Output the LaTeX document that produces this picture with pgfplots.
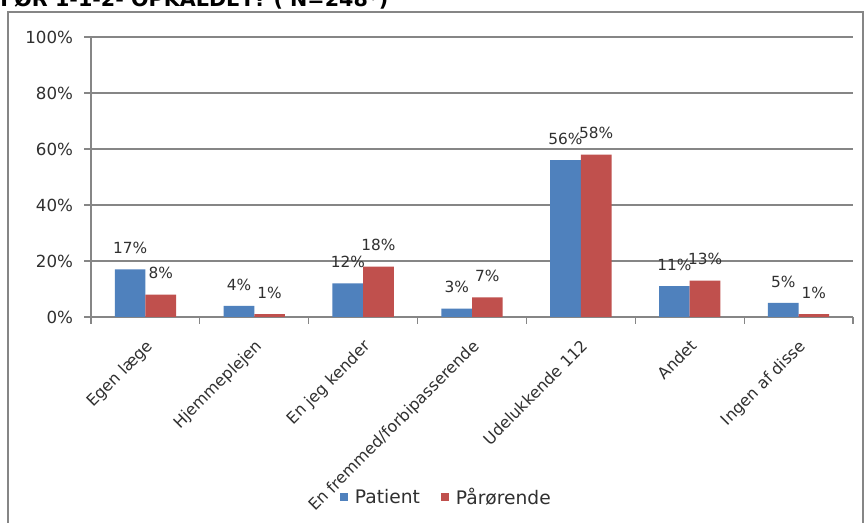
\documentclass[border=0pt]{standalone}
\usepackage{pgfplots}
\pgfplotsset{compat=1.18}
\usepackage{fontspec}
\setmainfont{DejaVu Sans}
\definecolor{xblue}{HTML}{4F81BD}
\definecolor{xred}{HTML}{C0504D}
\definecolor{gridc}{HTML}{868686}
\definecolor{txt}{HTML}{303030}
\begin{document}
\begin{tikzpicture}
\useasboundingbox (0pt,0pt) rectangle (648pt,392.25pt);
\clip (0pt,0pt) rectangle (648pt,392.25pt);
\fill[white] (0pt,0pt) rectangle (648pt,392.25pt);
\draw[gridc, line width=0.8pt] (6pt,-10pt) rectangle (647.25pt,383.25pt);
\node[anchor=base west, inner sep=0pt, font=\bfseries\fontsize{15.5pt}{18pt}\selectfont] at (0pt,387pt) {FØR 1-1-2- OPKALDET? ( N=248*)};
\begin{axis}[
  at={(68.25pt,154.5pt)}, anchor=south west,
  scale only axis, width=571.5pt, height=210pt,
  ybar=0pt, bar width=23pt,
  xmin=-0.5, xmax=6.5, ymin=0, ymax=100,
  axis x line*=bottom, axis y line*=left,
  axis line style={gridc, line width=0.8pt},
  ytick={0,20,...,100},
  yticklabel={\pgfmathprintnumber{\tick}\%},
  ymajorgrids, grid style={gridc, line width=0.8pt},
  xtick={0,...,6},
  xticklabels={Egen læge, Hjemmeplejen, En jeg kender, En fremmed/forbipasserende, Udelukkende 112, Andet, Ingen af disse},
  x tick label style={rotate=45, anchor=north east, font=\fontsize{12pt}{13pt}\selectfont, text=txt, inner sep=1pt, xshift=-7pt, yshift=-6.5pt},
  y tick label style={font=\fontsize{12.5pt}{14pt}\selectfont, text=txt, xshift=-5pt},
  /pgf/number format/assume math mode=true,
  minor xtick={-0.5,0.5,...,6.5},
  tick align=outside,
  major x tick style={draw=none},
  minor x tick style={gridc, line width=0.8pt},
  ytick style={gridc, line width=0.8pt},
  major tick length=5pt, minor tick length=5pt,
  nodes near coords={\pgfmathprintnumber{\pgfplotspointmeta}\%},
  nodes near coords style={font=\fontsize{11.5pt}{13pt}\selectfont, text=txt, yshift=8pt},
  legend style={at={(0.467,-0.643)}, anchor=center, draw=none, fill=none, legend columns=2, font=\fontsize{14pt}{16pt}\selectfont, text=txt,
    /tikz/every odd column/.append style={column sep=3pt},
    /tikz/every even column/.append style={column sep=14pt}},
  legend image code/.code={\fill[#1] (0pt,-3pt) rectangle (6pt,3pt);},
]
\addplot[fill=xblue, draw=none] coordinates {(0,17) (1,4) (2,12) (3,3) (4,56) (5,11) (6,5)};
\addplot[fill=xred, draw=none] coordinates {(0,8) (1,1) (2,18) (3,7) (4,58) (5,13) (6,1)};
\legend{Patient, Pårørende}
\end{axis}
\end{tikzpicture}
\end{document}
